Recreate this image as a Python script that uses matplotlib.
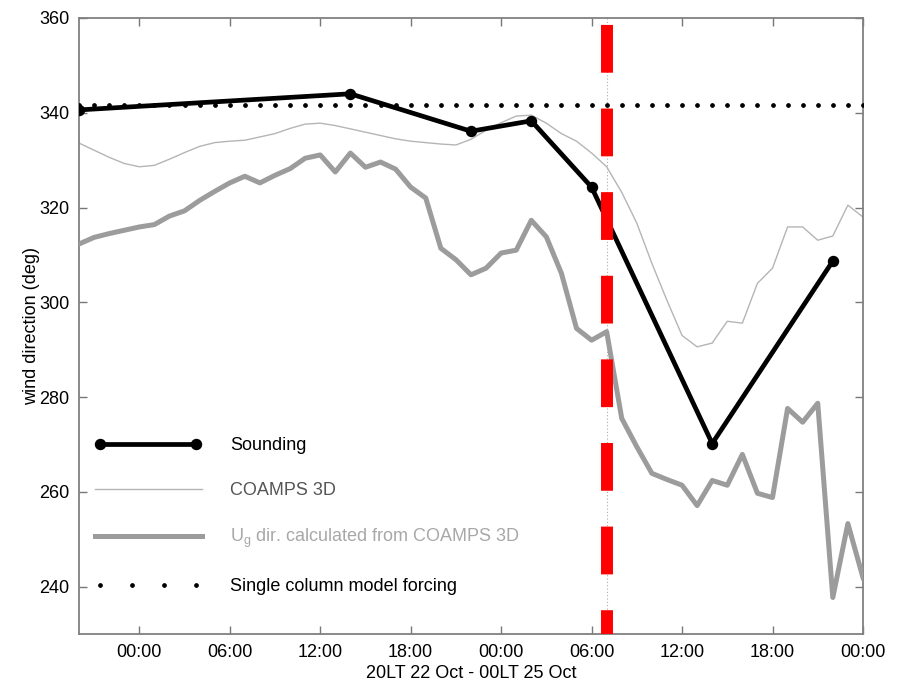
import matplotlib
matplotlib.use("Agg")
import matplotlib.pyplot as plt
from matplotlib.legend_handler import HandlerLine2D
import numpy as np

plt.rcParams['font.family'] = ['Liberation Sans', 'DejaVu Sans']
plt.rcParams['mathtext.fontset'] = 'custom'
plt.rcParams['mathtext.rm'] = 'Liberation Sans'
plt.rcParams['mathtext.it'] = 'Liberation Sans:italic'

# hours relative to 00LT 23 Oct
snd_hours = [-4, 14, 22, 26, 30, 38, 46]
snd_dir = [340.6, 344.0, 336.1, 338.3, 324.3, 270.2, 308.7]

model_hours = list(range(-4, 49))
coamps_dir = [333.6, 332.1, 330.6, 329.3, 328.6, 328.9, 330.2, 331.6, 332.9, 333.7,
              334.0, 334.2, 334.9, 335.6, 336.7, 337.6, 337.8, 337.3, 336.6, 335.9,
              335.2, 334.5, 334.0, 333.7, 333.4, 333.2, 334.4, 336.3, 337.9, 339.3,
              339.5, 337.8, 335.6, 334.0, 331.5, 328.6, 323.2, 316.7, 308.2, 300.4,
              293.0, 290.6, 291.4, 296.0, 295.6, 304.0, 307.2, 315.9, 315.9, 313.1,
              314.0, 320.5, 318.0]
ug_dir = [312.3, 313.7, 314.5, 315.2, 315.9, 316.4, 318.2, 319.3, 321.5, 323.4,
          325.2, 326.6, 325.2, 326.8, 328.2, 330.4, 331.1, 327.5, 331.5, 328.5,
          329.6, 328.1, 324.3, 322.0, 311.4, 309.0, 305.8, 307.2, 310.4, 311.0,
          317.3, 313.8, 306.1, 294.5, 292.0, 293.8, 275.5, 269.5, 263.9, 262.6,
          261.4, 257.1, 262.4, 261.4, 267.9, 259.7, 258.8, 277.6, 274.7, 278.7,
          237.7, 253.3, 241.9]
forcing_dir = 341.6
marker_hour = 31

xtick_pos = [0, 6, 12, 18, 24, 30, 36, 42, 48]
xtick_labels = ['00:00', '06:00', '12:00', '18:00', '00:00', '06:00', '12:00', '18:00', '00:00']
ytick_pos = [240, 260, 280, 300, 320, 340, 360]
xlim = (-4, 48)
ylim = (230, 360)

fig = plt.figure(figsize=(9.04, 6.84), dpi=100)
ax = fig.add_axes([0.0874, 0.0731, 0.8672, 0.9006])

ax.plot([marker_hour, marker_hour], [ylim[1], ylim[0]], color='#aaaaaa', lw=0.8,
        ls=(0, (1, 2)), zorder=1)

l_coamps, = ax.plot(model_hours, coamps_dir, color='#b5b5b5', lw=1.0, zorder=2,
                    label='COAMPS 3D')
l_ug, = ax.plot(model_hours, ug_dir, color='#9c9c9c', lw=3.6, zorder=3,
                label=r'U$_{\mathrm{g}}$ dir. calculated from COAMPS 3D')
l_force, = ax.plot(model_hours, [forcing_dir] * len(model_hours), ls='none',
                   marker='o', ms=2.4, color='black', zorder=4,
                   label='Single column model forcing')
l_snd, = ax.plot(snd_hours, snd_dir, color='black', lw=3.4, marker='o', ms=7.2,
                 zorder=5, label='Sounding')

ax.plot([marker_hour, marker_hour], [ylim[1], ylim[0]], color='red', lw=8.6,
        ls=(6.42, (4.0, 3.0)), solid_capstyle='butt', zorder=6)

ax.set_xlim(*xlim)
ax.set_ylim(*ylim)
ax.set_xticks(xtick_pos)
ax.set_xticklabels(xtick_labels)
ax.set_yticks(ytick_pos)
ax.tick_params(direction='in', length=6, width=1.0, color='#777777',
               labelsize=13, top=True, right=True, pad=7)
for s in ax.spines.values():
    s.set_color('#808080')
    s.set_linewidth(1.3)

ax.set_xlabel('20LT 22 Oct - 00LT 25 Oct', fontsize=13, labelpad=3)
ax.set_ylabel('wind direction (deg)', fontsize=13, labelpad=-1)

leg = ax.legend(handles=[l_snd, l_coamps, l_ug, l_force],
                loc='lower left', bbox_to_anchor=(0.0204, 0.063),
                frameon=False, fontsize=13, handlelength=5.9, handletextpad=1.6,
                labelspacing=1.55, borderaxespad=0, borderpad=0,
                handler_map={l_force: HandlerLine2D(numpoints=4),
                             l_snd: HandlerLine2D(numpoints=2)})
colors = ['black', '#555555', '#a8a8a8', 'black']
for t, c in zip(leg.get_texts(), colors):
    t.set_color(c)

fig.savefig('out.png', dpi=100)
